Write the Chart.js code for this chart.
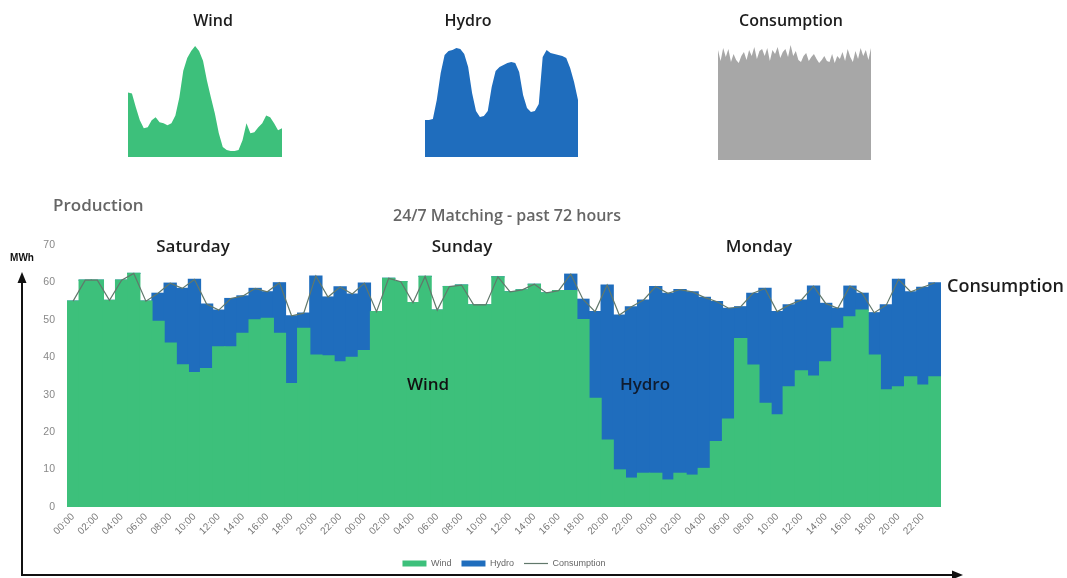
<!DOCTYPE html>
<html>
<head>
<meta charset="utf-8">
<script src="https://cdn.jsdelivr.net/npm/chart.js@4.4.1/dist/chart.umd.min.js"></script>
<style>
  body { margin: 0; width: 1067px; height: 578px; position: relative; overflow: hidden; background: #fff; font-family: "Open Sans", sans-serif; }
  .box { position: absolute; }
  .txt { position: absolute; white-space: nowrap; transform: translate(-50%, -50%); font-weight: 600; color: #1d1d1d; }
  .left { transform: translate(0, -50%); }
</style>
</head>
<body>
<div class="box" style="left:0;top:0;width:1067px;height:578px"><canvas id="chartMain"></canvas></div>
<div class="box" style="left:128px;top:46px;width:154px;height:111px"><canvas id="sparkWind"></canvas></div>
<div class="box" style="left:425px;top:48px;width:153px;height:109px"><canvas id="sparkHydro"></canvas></div>
<div class="box" style="left:718px;top:45px;width:153px;height:115px"><canvas id="sparkCons"></canvas></div>

<div class="txt" style="left:213px;top:20px;font-size:16px">Wind</div>
<div class="txt" style="left:468px;top:20px;font-size:16px">Hydro</div>
<div class="txt" style="left:791px;top:20px;font-size:16px">Consumption</div>
<div class="txt left" style="left:53px;top:204px;font-size:17px;color:#666">Production</div>
<div class="txt" style="left:507px;top:215px;font-size:16px;color:#666">24/7 Matching - past 72 hours</div>
<div class="txt" style="left:193px;top:245px;font-size:17px">Saturday</div>
<div class="txt" style="left:462px;top:245px;font-size:17px">Sunday</div>
<div class="txt" style="left:759px;top:245px;font-size:17px">Monday</div>
<div class="txt left" style="left:947px;top:285px;font-size:18px">Consumption</div>
<div class="txt" style="left:428px;top:383px;font-size:17px;color:#111">Wind</div>
<div class="txt" style="left:645px;top:383px;font-size:17px;color:#0f1c30">Hydro</div>
<div class="txt" style="left:22px;top:257px;font-size:10px;font-weight:700;font-family:'Liberation Sans',Arial,sans-serif;color:#111">MWh</div>

<script>
const GREEN = "#3dc07b";
const BLUE = "#1f6dbd";

// hourly labels, Saturday 00:00 -> Monday 23:00
const hours = [];
for (let d = 0; d < 3; d++)
  for (let h = 0; h < 24; h++) hours.push(String(h).padStart(2, "0") + ":00");

// MWh per hour
const wind = [
  55, 60.6, 60.6, 55.2, 60.6, 62.4, 55, 49.6, 43.8, 38, 35.9, 37,
  42.8, 42.8, 46.4, 50, 50.4, 46.4, 33, 47.7, 40.6, 40.4, 38.8, 40,
  41.8, 52.2, 61.1, 60.2, 54.6, 61.6, 52.6, 58.9, 59.3, 54, 54, 61.5,
  57.5, 58, 59.5, 57.2, 57.8, 57.8, 50.1, 29, 17.9, 9.9, 7.7, 9,
  9, 7.2, 9, 8.5, 10.3, 17.5, 23.5, 45, 37.9, 27.7, 24.6, 32.1,
  36.4, 35, 38.8, 47.7, 50.8, 52.6, 40.6, 31.3, 32.1, 34.8, 32.6, 34.8,
];
const hydro = [
  0, 0, 0, 0, 0, 0, 0, 7.5, 16, 20.4, 24.9, 17.2,
  9.8, 12.9, 10, 8.4, 7.1, 13.5, 18.1, 4.1, 21.1, 15.7, 20, 16.9,
  18, 0, 0, 0, 0, 0, 0, 0, 0, 0, 0, 0,
  0, 0, 0, 0, 0, 4.4, 5.4, 23.2, 41.4, 41.4, 45.8, 46.3,
  49.9, 49.9, 49.1, 49, 45.7, 37.4, 29.6, 8.5, 19.2, 30.7, 27.6, 21.9,
  18.9, 24, 15.6, 5.4, 8.2, 4.5, 11.3, 22.7, 28.7, 22.7, 26.1, 25.1,
];
const consumption = [
  55, 60.6, 60.6, 55.2, 60.6, 62.4, 55, 57.1, 59.8, 58.4, 60.8, 54.2,
  52.6, 55.7, 56.4, 58.4, 57.5, 59.9, 51.1, 51.8, 61.7, 56.1, 58.8, 56.9,
  59.8, 52.2, 61.1, 60.2, 54.6, 61.6, 52.6, 58.9, 59.3, 54, 54, 61.5,
  57.5, 58, 59.5, 57.2, 57.8, 62.2, 55.5, 52.2, 59.3, 51.3, 53.5, 55.3,
  58.9, 57.1, 58.1, 57.5, 56, 54.9, 53.1, 53.5, 57.1, 58.4, 52.2, 54,
  55.3, 59, 54.4, 53.1, 59, 57.1, 51.9, 54, 60.8, 57.5, 58.7, 59.9,
];
const yTicks = [0, 10, 20, 30, 40, 50, 60, 70];

// small overview curves (relative levels)
const sparkWind = [
  65, 64, 50, 37, 29, 30, 37, 40, 35, 34, 32, 34, 42, 60, 87, 100, 107, 112, 107, 97,
  77, 60, 44, 24, 10, 7, 6, 6, 7, 17, 34, 24, 25, 30, 34, 42, 40, 34, 27, 29,
];
const sparkHydro = [
  37, 37, 38, 57, 84, 102, 106, 107, 109, 108, 103, 90, 64, 46, 40, 41, 46, 70, 86, 90,
  92, 94, 95, 94, 85, 62, 49, 45, 46, 53, 100, 107, 104, 103, 102, 101, 99, 89, 75, 57,
];
const sparkCons = [
  110, 99, 112, 103, 111, 98, 106, 100, 97, 104, 108, 100, 110, 104, 113, 101, 109, 111, 104, 112,
  99, 110, 106, 113, 102, 108, 111, 103, 115, 104, 109, 100, 98, 104, 107, 99, 103, 106, 101, 97,
  100, 104, 99, 98, 106, 97, 104, 101, 108, 99, 111, 103, 98, 109, 101, 112, 104, 110, 100, 112,
];

function spark(id, values, color, top) {
  new Chart(document.getElementById(id), {
    type: "line",
    data: {
      labels: values.map((_, i) => i),
      datasets: [{ data: values, fill: "origin", backgroundColor: color, borderWidth: 0, pointRadius: 0, tension: 0 }],
    },
    options: {
      responsive: true,
      maintainAspectRatio: false,
      animation: false,
      layout: { padding: 0 },
      plugins: { legend: { display: false }, tooltip: { enabled: false } },
      scales: { x: { display: false }, y: { display: false, min: 0, max: top } },
    },
  });
}

spark("sparkWind", sparkWind, GREEN, 112);
spark("sparkHydro", sparkHydro, BLUE, 109);
spark("sparkCons", sparkCons, "#a7a7a7", 115);

// axis arrows drawn over the whole page canvas
const arrows = {
  id: "arrows",
  afterDraw(chart) {
    const ctx = chart.ctx;
    ctx.save();
    ctx.strokeStyle = "#111";
    ctx.fillStyle = "#111";
    ctx.lineWidth = 2;
    ctx.beginPath();
    ctx.moveTo(22, 575);
    ctx.lineTo(22, 282);
    ctx.moveTo(21, 575);
    ctx.lineTo(954, 575);
    ctx.stroke();
    ctx.beginPath();
    ctx.moveTo(22, 272);
    ctx.lineTo(17.5, 283);
    ctx.lineTo(26.5, 283);
    ctx.closePath();
    ctx.fill();
    ctx.beginPath();
    ctx.moveTo(963, 575);
    ctx.lineTo(952, 570.5);
    ctx.lineTo(952, 579.5);
    ctx.closePath();
    ctx.fill();
    ctx.restore();
  },
};

const legendRank = { Wind: 0, Hydro: 1, Consumption: 2 };

new Chart(document.getElementById("chartMain"), {
  type: "bar",
  data: {
    labels: hours,
    datasets: [
      {
        type: "line", label: "Consumption", data: consumption, stack: "cons", order: 0,
        borderColor: "#61786b", borderWidth: 1.2, pointRadius: 0, tension: 0, pointStyle: "line",
      },
      { label: "Wind", data: wind, stack: "prod", order: 1, backgroundColor: GREEN, borderWidth: 0, inflateAmount: 0.6, pointStyle: "rect" },
      { label: "Hydro", data: hydro, stack: "prod", order: 1, backgroundColor: BLUE, borderWidth: 0, inflateAmount: 0.6, pointStyle: "rect" },
    ],
  },
  options: {
    responsive: true,
    maintainAspectRatio: false,
    animation: false,
    layout: { padding: { top: 245, right: 126, left: 0, bottom: 0 } },
    datasets: { bar: { barPercentage: 1, categoryPercentage: 1 } },
    plugins: {
      tooltip: { enabled: false },
      legend: {
        position: "bottom",
        fullSize: false,
        labels: {
          usePointStyle: true,
          pointStyleWidth: 24,
          boxHeight: 6,
          padding: 10,
          color: "#666",
          font: { family: "'Liberation Sans', Arial, sans-serif", size: 9 },
          sort: (a, b) => legendRank[a.text] - legendRank[b.text],
        },
      },
    },
    scales: {
      x: {
        stacked: true,
        grid: { display: false, drawTicks: false },
        border: { display: false },
        afterFit: (s) => { s.height = 42; },
        ticks: {
          autoSkip: false,
          maxRotation: 45,
          minRotation: 45,
          padding: 4,
          color: "#777",
          font: { family: "'Liberation Sans', Arial, sans-serif", size: 10 },
          callback: (v, i) => (i % 2 === 0 ? hours[i] : ""),
        },
      },
      y: {
        stacked: true,
        min: yTicks[0],
        max: yTicks[yTicks.length - 1],
        grid: { display: false, drawTicks: false },
        border: { display: false },
        afterFit: (s) => { s.width = 67; },
        afterBuildTicks: (s) => { s.ticks = yTicks.map((v) => ({ value: v })); },
        ticks: {
          padding: 12,
          color: "#888",
          font: { family: "'Liberation Sans', Arial, sans-serif", size: 10.5 },
        },
      },
    },
  },
  plugins: [arrows],
});
</script>
</body>
</html>
